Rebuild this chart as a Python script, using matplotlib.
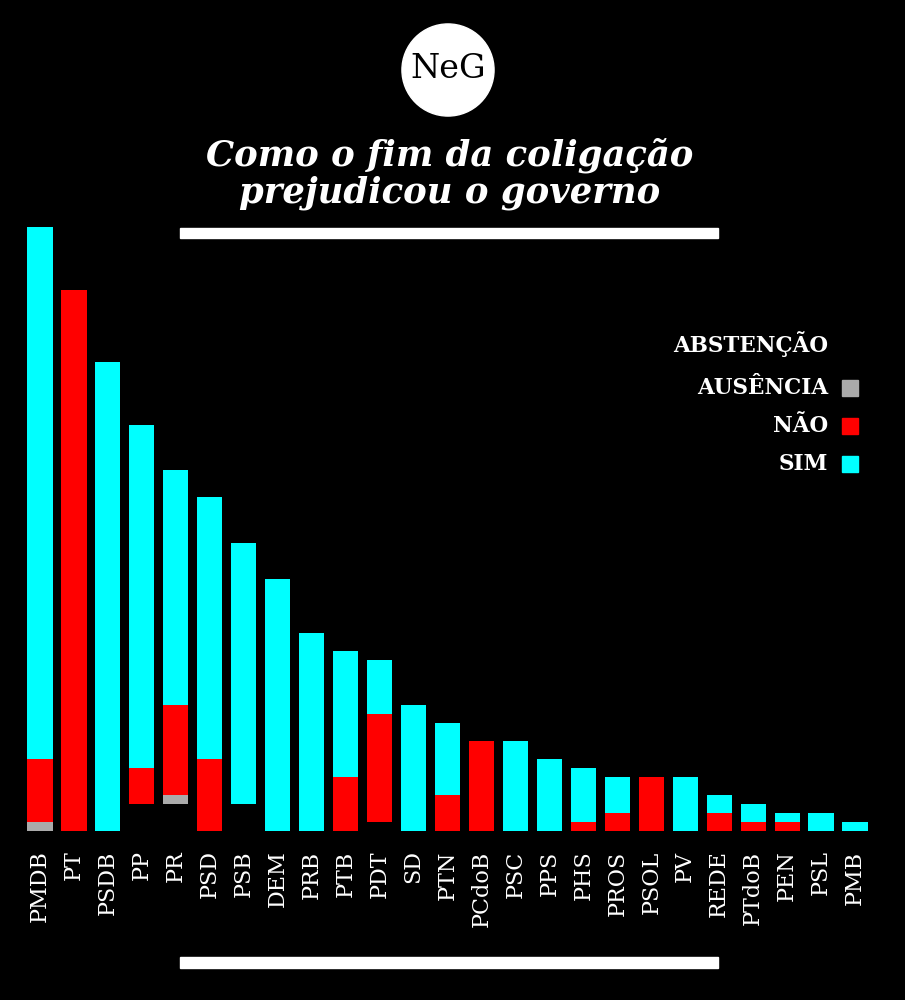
import matplotlib.pyplot as plt
from matplotlib.patches import Circle, Rectangle
import numpy as np

partidos = ["PMDB", "PT", "PSDB", "PP", "PR", "PSD", "PSB", "DEM", "PRB", "PTB",
            "PDT", "SD", "PTN", "PCdoB", "PSC", "PPS", "PHS", "PROS", "PSOL", "PV",
            "REDE", "PTdoB", "PEN", "PSL", "PMB"]
abstencao = [0, 0, 0, 3, 3, 0, 3, 0, 0, 0, 1, 0, 0, 0, 0, 0, 0, 0, 0, 0, 0, 0, 0, 0, 0]
ausencia = [1, 0, 0, 0, 1, 0, 0, 0, 0, 0, 0, 0, 0, 0, 0, 0, 0, 0, 0, 0, 0, 0, 0, 0, 0]
nao = [7, 60, 0, 4, 10, 8, 0, 0, 0, 6, 12, 0, 4, 10, 0, 0, 1, 2, 6, 0, 2, 1, 1, 0, 0]
sim = [59, 0, 52, 38, 26, 29, 29, 28, 22, 14, 6, 14, 8, 0, 10, 8, 6, 4, 0, 6, 2, 2, 1, 2, 1]

series = [("ABSTENÇÃO", abstencao, "#000000"),
          ("AUSÊNCIA", ausencia, "#aaaaaa"),
          ("NÃO", nao, "#ff0000"),
          ("SIM", sim, "#00ffff")]

fig = plt.figure(figsize=(9.05, 10), dpi=100, facecolor="black")
ax = fig.add_axes([23 / 905, 0.169, 849 / 905, 0.604])
ax.set_facecolor("black")

x = np.arange(len(partidos))
base = np.zeros(len(partidos))
for nome, vals, cor in series:
    ax.bar(x, vals, bottom=base, width=0.74, color=cor, linewidth=0)
    base += np.array(vals)

ax.set_xlim(-0.5, len(partidos) - 0.5)
ax.set_ylim(0, 67)
ax.set_xticks(x)
ax.set_xticklabels(partidos, rotation=90, color="white", fontsize=16,
                   family="DejaVu Serif", fontweight="medium")
ax.tick_params(axis="x", length=0, pad=14)
ax.set_yticks([])
for s in ax.spines.values():
    s.set_visible(False)

# legenda
leg_y = [344, 388, 426, 464]
for (nome, vals, cor), yy in zip(series, leg_y):
    fig.text(828 / 905, 1 - yy / 1000, nome, color="white", fontsize=15.5,
             fontweight="bold", family="DejaVu Serif", ha="right", va="center")
    fig.patches.append(Rectangle((842 / 905, 1 - (yy + 8) / 1000), 16 / 905, 16 / 1000,
                                 transform=fig.transFigure, color=cor, figure=fig))

# titulo
fig.text(450 / 905, 1 - 174 / 1000, "Como o fim da coligação\nprejudicou o governo",
         color="white", fontsize=25.5, fontweight="bold", style="italic",
         family="DejaVu Serif", ha="center", va="center", linespacing=1.08)

# linhas brancas
fig.patches.append(Rectangle((180 / 905, 1 - 238 / 1000), 538 / 905, 10 / 1000,
                             transform=fig.transFigure, color="white", figure=fig))
fig.patches.append(Rectangle((180 / 905, 1 - 968 / 1000), 538 / 905, 11 / 1000,
                             transform=fig.transFigure, color="white", figure=fig))

# logo
logo = fig.add_axes([401 / 905, 1 - 117 / 1000, 94 / 905, 94 / 1000])
logo.set_xlim(-1, 1)
logo.set_ylim(-1, 1)
logo.axis("off")
logo.add_patch(Circle((0, 0), 0.98, color="white", clip_on=False))
logo.text(0, 0.02, "NeG", color="black", fontsize=24, family="DejaVu Serif",
          ha="center", va="center")

fig.savefig("out.png", dpi=100, facecolor="black")
